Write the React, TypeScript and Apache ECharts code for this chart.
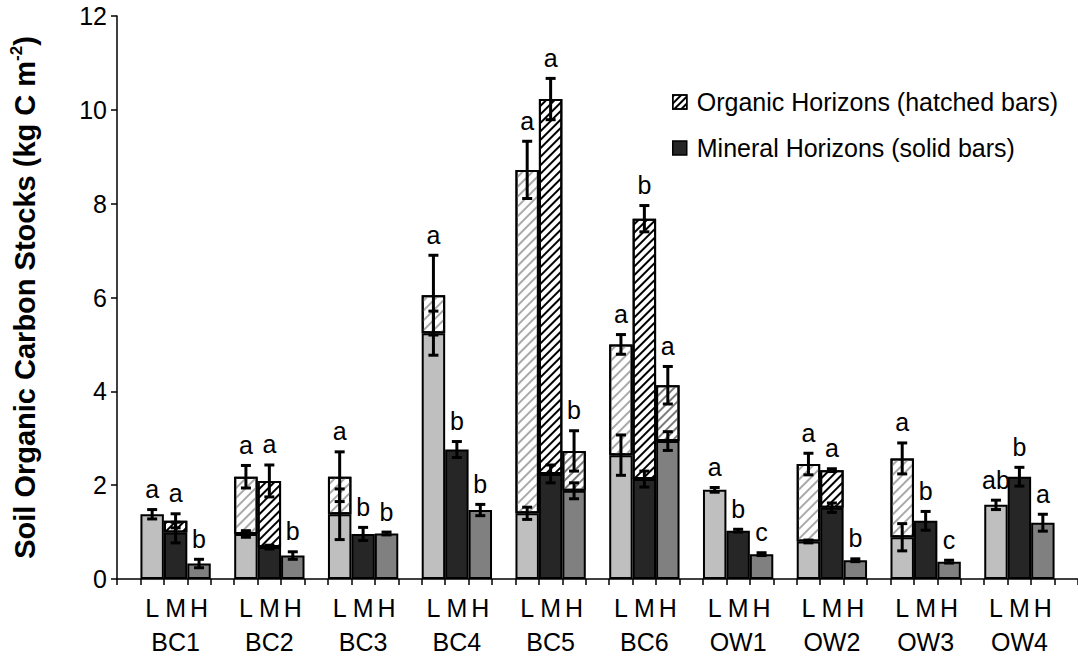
import { useEffect, useRef } from 'react';
import * as echarts from 'echarts';

// Sites and depth-class levels (Low / Medium / High)
const sites = ['BC1', 'BC2', 'BC3', 'BC4', 'BC5', 'BC6', 'OW1', 'OW2', 'OW3', 'OW4'];
const levels = ['L', 'M', 'H'];

// Mineral-horizon carbon stocks (kg C m-2), per site in L, M, H order
const mineral = [
  1.38, 0.99, 0.33,
  0.96, 0.68, 0.50,
  1.38, 0.96, 0.97,
  5.24, 2.76, 1.47,
  1.40, 2.24, 1.88,
  2.64, 2.13, 2.94,
  1.90, 1.03, 0.53,
  0.80, 1.52, 0.40,
  0.89, 1.24, 0.37,
  1.58, 2.18, 1.20,
];
const mineralErr = [
  0.10, 0.22, 0.09,
  0.07, 0.04, 0.08,
  0.54, 0.14, 0.03,
  0.47, 0.17, 0.12,
  0.13, 0.19, 0.17,
  0.43, 0.17, 0.20,
  0.05, 0.03, 0.03,
  0.03, 0.10, 0.03,
  0.29, 0.20, 0.03,
  0.10, 0.20, 0.18,
];
// Total stock (mineral + organic horizons)
const total = [
  1.38, 1.24, 0.33,
  2.18, 2.09, 0.50,
  2.18, 0.96, 0.97,
  6.05, 2.76, 1.47,
  8.72, 10.23, 2.73,
  5.00, 7.68, 4.13,
  1.90, 1.03, 0.53,
  2.45, 2.32, 0.40,
  2.57, 1.24, 0.37,
  1.58, 2.18, 1.20,
];
const totalErr = [
  0, 0.15, 0,
  0.24, 0.34, 0,
  0.53, 0, 0,
  0.85, 0, 0,
  0.61, 0.44, 0.43,
  0.21, 0.28, 0.40,
  0, 0, 0,
  0.23, 0.03, 0,
  0.33, 0, 0,
  0, 0, 0,
];
// Significance letters
const letters = [
  'a', 'a', 'b',
  'a', 'a', 'b',
  'a', 'b', 'b',
  'a', 'b', 'b',
  'a', 'a', 'b',
  'a', 'b', 'a',
  'a', 'b', 'c',
  'a', 'a', 'b',
  'a', 'b', 'c',
  'ab', 'b', 'a',
];

const FONT = '"Liberation Sans", Arial, Helvetica, sans-serif';
const SLOTS = sites.length * 4 + 1;
const slotOf = (i: number) => Math.floor(i / 3) * 4 + 1 + (i % 3);

const fillColors = ['#bfbfbf', '#262626', '#808080'];
const hatchColors = ['#a9a9a9', '#000000', '#7a7a7a'];
const hatchGaps = [4.5, 3.5, 4];

// Diagonal "/" hatching
const hatch = (color: string, gap: number) => ({
  symbol: 'rect',
  symbolSize: 1,
  dashArrayX: [1, 0],
  dashArrayY: [2, gap],
  rotation: -Math.PI / 4,
  color,
});

export default function App() {
  const ref = useRef<HTMLDivElement>(null);

  useEffect(() => {
    if (!ref.current) return;
    const chart = echarts.init(ref.current, undefined, { renderer: 'svg' });

    const slotNames = Array.from({ length: SLOTS }, (_, k) => {
      const s = Math.floor(k / 4);
      const m = k % 4;
      return m === 0 || s >= sites.length ? `gap${k}` : `${sites[s]}-${levels[m - 1]}`;
    });

    const mineralData: any[] = Array(SLOTS).fill('-');
    const organicData: any[] = Array(SLOTS).fill('-');
    const errData: number[][] = [];
    const letterData: number[][] = [];

    mineral.forEach((v, i) => {
      const slot = slotOf(i);
      const lvl = i % 3;
      mineralData[slot] = { value: v, itemStyle: { color: fillColors[lvl] } };
      const org = +(total[i] - v).toFixed(2);
      if (org > 0) {
        organicData[slot] = {
          value: org,
          itemStyle: { color: '#ffffff', decal: hatch(hatchColors[lvl], hatchGaps[lvl]) },
        };
      }
      errData.push([slot, v, mineralErr[i]]);
      if (totalErr[i] > 0) errData.push([slot, total[i], totalErr[i]]);
      letterData.push([slot, Math.max(total[i] + totalErr[i], v + mineralErr[i])]);
    });

    const option: any = {
      animation: false,
      grid: { left: 104, right: -2, top: 16, bottom: 82, containLabel: false },
      legend: {
        orient: 'vertical',
        left: 667,
        top: 84,
        itemWidth: 14,
        itemHeight: 14,
        itemGap: 20,
        icon: 'rect',
        itemStyle: { borderColor: '#000', borderWidth: 1.5 },
        textStyle: { fontSize: 25, fontFamily: FONT, color: '#000', lineHeight: 26, padding: [0, 0, 0, 5] },
        data: ['Organic Horizons (hatched bars)', 'Mineral Horizons (solid bars)'],
      },
      xAxis: {
        type: 'category',
        data: slotNames,
        axisLine: { lineStyle: { color: '#000', width: 1.5 } },
        axisTick: { show: true, interval: 0, length: 6, lineStyle: { color: '#000', width: 1.5 } },
        axisLabel: {
          interval: 0,
          margin: 12,
          fontSize: 25,
          lineHeight: 34,
          fontFamily: FONT,
          color: '#000',
          formatter: (_: string, k: number) => {
            const s = Math.floor(k / 4);
            const m = k % 4;
            if (m === 0 || s >= sites.length) return '';
            return m === 2 ? `${levels[1]}\n${sites[s]}` : levels[m - 1];
          },
        },
      },
      yAxis: {
        type: 'value',
        min: 0,
        max: 12,
        interval: 2,
        name: '{t|Soil Organic Carbon Stocks (kg C m}{s|-2}{t|)}',
        nameLocation: 'middle',
        nameRotate: 90,
        nameGap: 75,
        nameTextStyle: {
          rich: {
            t: { fontSize: 29, fontWeight: 'bold', fontFamily: FONT, color: '#000', lineHeight: 34 },
            s: { fontSize: 17, fontWeight: 'bold', fontFamily: FONT, color: '#000', lineHeight: 34, verticalAlign: 'top', padding: [0, 0, 13, 0] },
          },
        },
        axisLine: { show: true, lineStyle: { color: '#000', width: 1.5 } },
        axisTick: { show: true, length: 6, lineStyle: { color: '#000', width: 1.5 } },
        splitLine: { show: false },
        axisLabel: { fontSize: 25, fontFamily: FONT, color: '#000', margin: 10 },
      },
      series: [
        {
          name: 'Mineral Horizons (solid bars)',
          type: 'bar',
          stack: 'soc',
          barCategoryGap: '0%',
          itemStyle: { color: '#262626', borderColor: '#000', borderWidth: 2 },
          data: mineralData,
        },
        {
          name: 'Organic Horizons (hatched bars)',
          type: 'bar',
          stack: 'soc',
          barCategoryGap: '0%',
          itemStyle: { color: '#ffffff', borderColor: '#000', borderWidth: 2, decal: hatch('#000000', 3) },
          data: organicData,
        },
        {
          type: 'custom',
          z: 5,
          encode: { x: 0, y: 1 },
          data: errData,
          renderItem: (_: any, api: any) => {
            const x = api.value(0);
            const c = api.value(1);
            const e = api.value(2);
            const top = api.coord([x, c + e]);
            const bot = api.coord([x, c - e]);
            const hw = 5;
            const style = { stroke: '#000', lineWidth: 3 };
            return {
              type: 'group',
              children: [
                { type: 'line', shape: { x1: top[0], y1: top[1], x2: bot[0], y2: bot[1] }, style },
                { type: 'line', shape: { x1: top[0] - hw, y1: top[1], x2: top[0] + hw, y2: top[1] }, style },
                { type: 'line', shape: { x1: bot[0] - hw, y1: bot[1], x2: bot[0] + hw, y2: bot[1] }, style },
              ],
            };
          },
        },
        {
          type: 'custom',
          z: 6,
          encode: { x: 0, y: 1 },
          data: letterData,
          renderItem: (params: any, api: any) => {
            const p = api.coord([api.value(0), api.value(1)]);
            return {
              type: 'text',
              x: p[0],
              y: p[1] - 8,
              style: {
                text: letters[params.dataIndex],
                fontSize: 25,
                fontFamily: FONT,
                fill: '#000',
                align: 'center',
                verticalAlign: 'bottom',
              },
            };
          },
        },
      ],
    };

    chart.setOption(option);
    return () => chart.dispose();
  }, []);

  return (
    <div
      ref={ref}
      style={{ position: 'absolute', left: 0, top: 0, width: 1078, height: 661, background: '#fff' }}
    />
  );
}
